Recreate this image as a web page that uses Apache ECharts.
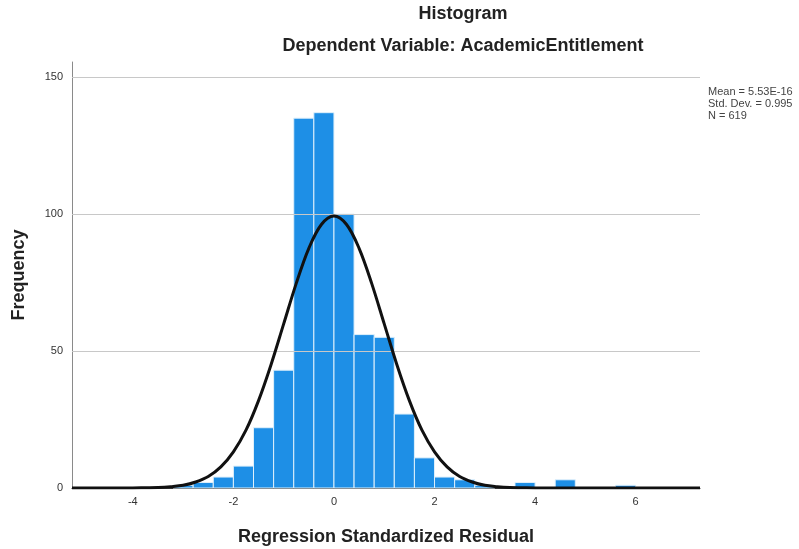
<!DOCTYPE html>
<html>
<head>
<meta charset="utf-8">
<script src="https://cdn.jsdelivr.net/npm/echarts@6/dist/echarts.min.js"></script>
<style>html,body{margin:0;padding:0;background:#fff}#c{width:799px;height:549px}</style>
</head>
<body>
<div id="c"></div>
<script>
// Histogram bins (left edges, width 0.4) and frequencies
const binStarts = [-3.2, -2.8, -2.4, -2.0, -1.6, -1.2, -0.8, -0.4, 0.0, 0.4, 0.8, 1.2, 1.6, 2.0, 2.4, 2.8, 3.6, 4.4, 5.6];
const counts    = [1,    2,    4,    8,    22,   43,   135,  137,  100, 56,  55,  27,  11,  4,   3,   1,   2,   3,   1];
const binWidth = 0.4;

// Normal curve
const curveX = [-5.21, -4, -3.75, -3.5, -3.25, -3, -2.75, -2.5, -2.25, -2, -1.75, -1.5, -1.25, -1, -0.75, -0.5, -0.25, 0, 0.25, 0.5, 0.75, 1, 1.25, 1.5, 1.75, 2, 2.25, 2.5, 2.75, 3, 3.25, 3.5, 3.75, 4, 7.28];
const curveY = [0, 0, 0.1, 0.2, 0.5, 1.0, 2.2, 4.2, 7.7, 13.2, 21.1, 31.9, 45.1, 59.9, 74.7, 87.5, 96.2, 99.3, 96.2, 87.5, 74.7, 59.9, 45.1, 31.9, 21.1, 13.2, 7.7, 4.2, 2.2, 1.0, 0.5, 0.2, 0.1, 0, 0];

const xTicks = [-4, -2, 0, 2, 4, 6];
const yTicks = [0, 50, 100, 150];
const statsText = ['Mean = 5.53E-16', 'Std. Dev. = 0.995', 'N = 619'];

const FONT = 'Liberation Sans, Arial, sans-serif';
const chart = echarts.init(document.getElementById('c'), null, {renderer: 'canvas'});

const barData = binStarts.map((s, i) => [s, s + binWidth, counts[i]]);
const curveData = curveX.map((x, i) => [x, curveY[i]]);

chart.setOption({
  animation: false,
  backgroundColor: '#fff',
  textStyle: {fontFamily: FONT},
  title: [
    {text: 'Histogram', left: 463, top: 0, textAlign: 'center', padding: 0,
     textStyle: {fontSize: 18, fontWeight: 'bold', color: '#222', fontFamily: FONT, lineHeight: 28}},
    {text: 'Dependent Variable: AcademicEntitlement', left: 463, top: 32, textAlign: 'center', padding: 0,
     textStyle: {fontSize: 18, fontWeight: 'bold', color: '#222', fontFamily: FONT, lineHeight: 28}},
    {text: statsText.join('\n'), left: 708, top: 86, padding: 0,
     textStyle: {fontSize: 11, fontWeight: 'normal', color: '#444', lineHeight: 12, fontFamily: FONT}}
  ],
  grid: {left: 72, right: 99, top: 62, bottom: 61, outerBoundsMode: 'none', containLabel: false},
  xAxis: {
    type: 'value', min: -5.21, max: 7.28,
    name: 'Regression Standardized Residual', nameLocation: 'middle', nameGap: 40,
    nameTextStyle: {fontSize: 18, fontWeight: 'bold', color: '#222', fontFamily: FONT},
    axisLine: {show: true, onZero: false, lineStyle: {color: '#333', width: 1}},
    axisTick: {show: false},
    splitLine: {show: false},
    axisLabel: {customValues: xTicks, fontSize: 11, color: '#333', margin: 8, fontFamily: FONT}
  },
  yAxis: {
    type: 'value', min: 0, max: 155.5,
    name: 'Frequency', nameLocation: 'middle', nameGap: 44, nameRotate: 90,
    nameTextStyle: {fontSize: 18, fontWeight: 'bold', color: '#222', fontFamily: FONT},
    axisLine: {show: true, onZero: false, lineStyle: {color: '#8a8a8a', width: 1}},
    axisTick: {show: false},
    splitLine: {show: false},
    axisLabel: {customValues: yTicks, fontSize: 11, color: '#333', margin: 9, fontFamily: FONT}
  },
  series: [
    {
      type: 'custom',
      data: barData,
      encode: {x: [0, 1], y: 2},
      renderItem: function (params, api) {
        const p0 = api.coord([api.value(0), 0]);
        const p1 = api.coord([api.value(1), api.value(2)]);
        return {
          type: 'rect',
          shape: {x: p0[0], y: p1[1], width: p1[0] - p0[0], height: p0[1] - p1[1]},
          style: {fill: '#1e8fe6', stroke: '#dff0fb', lineWidth: 1}
        };
      },
      markLine: {
        silent: true, symbol: 'none', label: {show: false},
        lineStyle: {color: '#c8c8c8', width: 1, type: 'solid'},
        data: yTicks.filter(v => v > 0).map(v => ({yAxis: v}))
      },
      z: 2
    },
    {
      type: 'line',
      data: curveData,
      smooth: 0.35,
      showSymbol: false,
      lineStyle: {color: '#111', width: 3},
      z: 5
    }
  ]
});
</script>
</body>
</html>
